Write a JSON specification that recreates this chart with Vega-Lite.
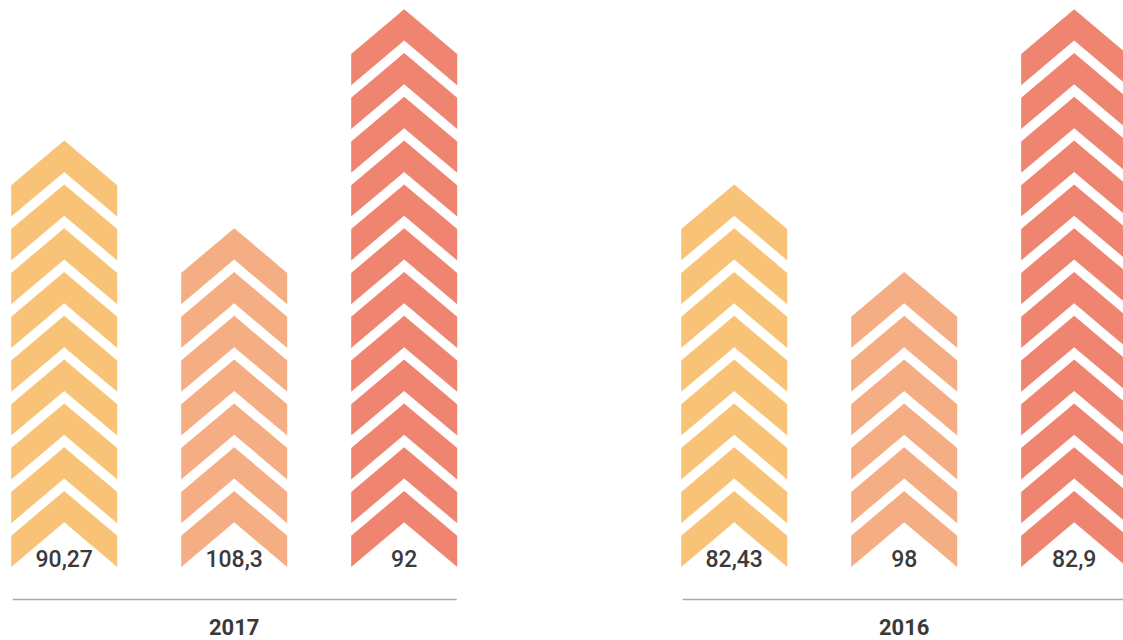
{
  "$schema": "https://vega.github.io/schema/vega-lite/v6.json",
  "padding": {"left": 11.2, "top": 0, "right": 0, "bottom": 0},
  "background": "#ffffff",
  "bounds": "flush",
  "spacing": 226,
  "data": {
    "values": [
      {"year": "2017", "c": "A", "i": 0, "label": "90,27"},
      {"year": "2017", "c": "A", "i": 1},
      {"year": "2017", "c": "A", "i": 2},
      {"year": "2017", "c": "A", "i": 3},
      {"year": "2017", "c": "A", "i": 4},
      {"year": "2017", "c": "A", "i": 5},
      {"year": "2017", "c": "A", "i": 6},
      {"year": "2017", "c": "A", "i": 7},
      {"year": "2017", "c": "A", "i": 8},
      {"year": "2017", "c": "B", "i": 0, "label": "108,3"},
      {"year": "2017", "c": "B", "i": 1},
      {"year": "2017", "c": "B", "i": 2},
      {"year": "2017", "c": "B", "i": 3},
      {"year": "2017", "c": "B", "i": 4},
      {"year": "2017", "c": "B", "i": 5},
      {"year": "2017", "c": "B", "i": 6},
      {"year": "2017", "c": "C", "i": 0, "label": "92"},
      {"year": "2017", "c": "C", "i": 1},
      {"year": "2017", "c": "C", "i": 2},
      {"year": "2017", "c": "C", "i": 3},
      {"year": "2017", "c": "C", "i": 4},
      {"year": "2017", "c": "C", "i": 5},
      {"year": "2017", "c": "C", "i": 6},
      {"year": "2017", "c": "C", "i": 7},
      {"year": "2017", "c": "C", "i": 8},
      {"year": "2017", "c": "C", "i": 9},
      {"year": "2017", "c": "C", "i": 10},
      {"year": "2017", "c": "C", "i": 11},
      {"year": "2016", "c": "A", "i": 0, "label": "82,43"},
      {"year": "2016", "c": "A", "i": 1},
      {"year": "2016", "c": "A", "i": 2},
      {"year": "2016", "c": "A", "i": 3},
      {"year": "2016", "c": "A", "i": 4},
      {"year": "2016", "c": "A", "i": 5},
      {"year": "2016", "c": "A", "i": 6},
      {"year": "2016", "c": "A", "i": 7},
      {"year": "2016", "c": "B", "i": 0, "label": "98"},
      {"year": "2016", "c": "B", "i": 1},
      {"year": "2016", "c": "B", "i": 2},
      {"year": "2016", "c": "B", "i": 3},
      {"year": "2016", "c": "B", "i": 4},
      {"year": "2016", "c": "B", "i": 5},
      {"year": "2016", "c": "C", "i": 0, "label": "82,9"},
      {"year": "2016", "c": "C", "i": 1},
      {"year": "2016", "c": "C", "i": 2},
      {"year": "2016", "c": "C", "i": 3},
      {"year": "2016", "c": "C", "i": 4},
      {"year": "2016", "c": "C", "i": 5},
      {"year": "2016", "c": "C", "i": 6},
      {"year": "2016", "c": "C", "i": 7},
      {"year": "2016", "c": "C", "i": 8},
      {"year": "2016", "c": "C", "i": 9},
      {"year": "2016", "c": "C", "i": 10},
      {"year": "2016", "c": "C", "i": 11}
    ]
  },
  "facet": {
    "column": {
      "field": "year",
      "type": "nominal",
      "sort": ["2017", "2016"],
      "title": null,
      "header": {"labels": false, "title": null}
    }
  },
  "spec": {
    "width": 444,
    "height": 599,
    "encoding": {
      "x": {
        "field": "c",
        "type": "nominal",
        "scale": {"type": "point", "padding": 0.306, "domain": ["A", "B", "C"]},
        "axis": {"title": null, "labels": false, "ticks": false, "grid": false, "domain": true, "domainColor": "#a9a9a9", "domainWidth": 1.5}
      },
      "y": {
        "field": "i",
        "type": "quantitative",
        "scale": {"domain": [-1.598, 12.078], "nice": false, "zero": false},
        "axis": null
      }
    },
    "layer": [
      {
        "mark": {
          "type": "point",
          "shape": "M0,-0.717L1,0.126L1,0.717L0,-0.126L-1,0.717L-1,0.126Z",
          "size": 11236,
          "filled": true,
          "opacity": 1,
          "strokeWidth": 0
        },
        "encoding": {
          "color": {
            "field": "c",
            "type": "nominal",
            "scale": {"domain": ["A", "B", "C"], "range": ["#f9c377", "#f5ae83", "#ef8571"]},
            "legend": null
          }
        }
      },
      {
        "transform": [{"filter": "isValid(datum.label)"}],
        "mark": {
          "type": "text",
          "font": "Roboto",
          "fontSize": 23,
          "fontWeight": 500,
          "color": "#3a3a3a",
          "baseline": "alphabetic",
          "align": "center",
          "dy": 38
        },
        "encoding": {"text": {"field": "label"}}
      },
      {
        "transform": [{"filter": "datum.i == 0 && datum.c == 'B'"}],
        "mark": {
          "type": "text",
          "font": "Roboto",
          "fontSize": 22,
          "fontWeight": "bold",
          "color": "#3a3a3a",
          "baseline": "alphabetic",
          "align": "center",
          "dy": 106
        },
        "encoding": {"text": {"field": "year"}}
      }
    ]
  },
  "config": {"view": {"stroke": null}}
}
